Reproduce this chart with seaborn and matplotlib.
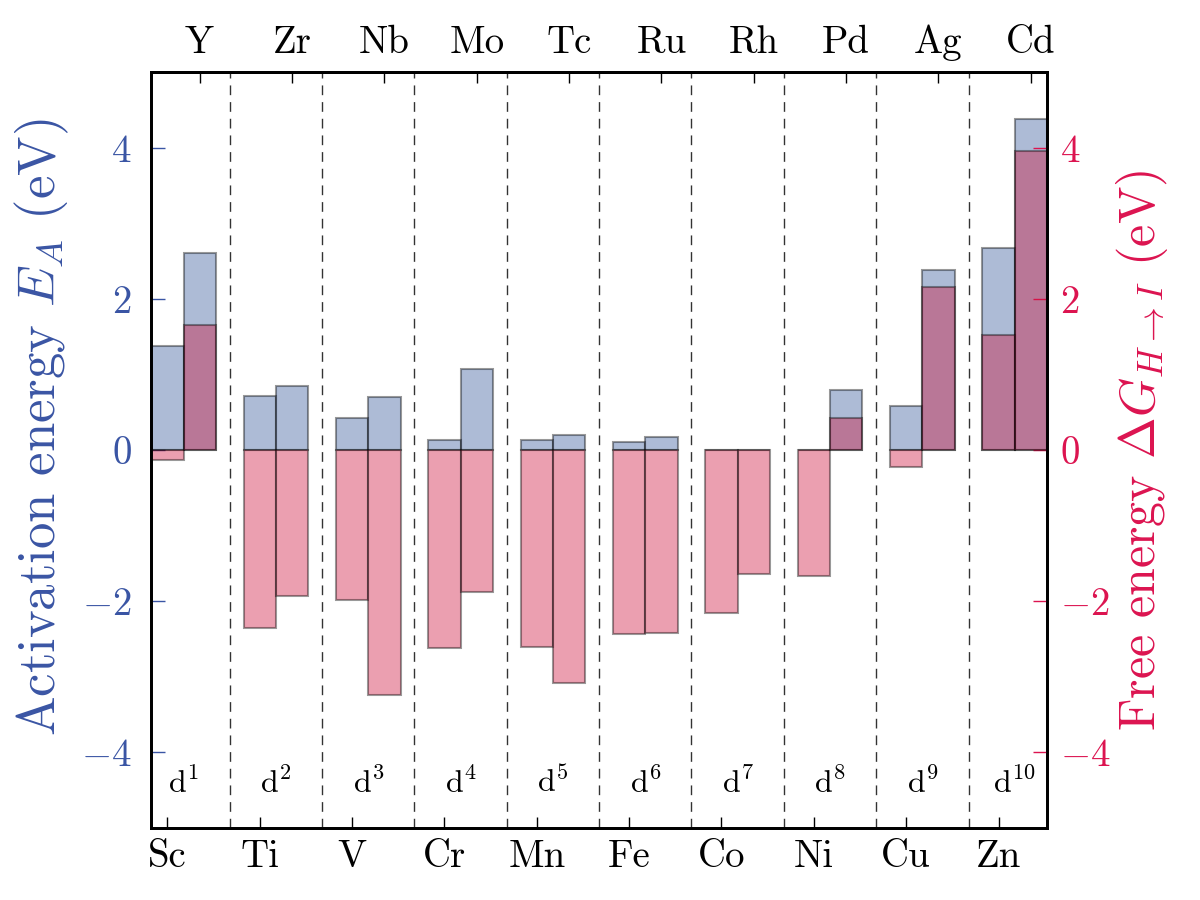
import pandas as pd
import seaborn as sns
import matplotlib.pyplot as plt

# Transition metals: 3d row (left bar) and 4d row (right bar) for each d-count
d_labels = ['d$^{1}$', 'd$^{2}$', 'd$^{3}$', 'd$^{4}$', 'd$^{5}$',
            'd$^{6}$', 'd$^{7}$', 'd$^{8}$', 'd$^{9}$', 'd$^{10}$']
elem_3d = ['Sc', 'Ti', 'V', 'Cr', 'Mn', 'Fe', 'Co', 'Ni', 'Cu', 'Zn']
elem_4d = ['Y', 'Zr', 'Nb', 'Mo', 'Tc', 'Ru', 'Rh', 'Pd', 'Ag', 'Cd']

# Activation energy E_A (eV)
ea_3d = [1.38, 0.71, 0.42, 0.13, 0.13, 0.10, 0.0, 0.0, 0.58, 2.67]
ea_4d = [2.60, 0.84, 0.70, 1.07, 0.20, 0.17, 0.0, 0.80, 2.38, 4.38]

# Free energy dG_{H->I} (eV)
dg_3d = [-0.13, -2.35, -1.98, -2.62, -2.60, -2.44, -2.15, -1.67, -0.22, 1.52]
dg_4d = [1.65, -1.93, -3.24, -1.88, -3.08, -2.42, -1.64, 0.42, 2.15, 3.95]

blue = '#3a55a4'
red = '#dc1450'
blue_bar = '#345599'
red_bar = '#cd113a'

df = pd.DataFrame({
    'group': d_labels * 2,
    'row': ['3d'] * 10 + ['4d'] * 10,
    'EA': ea_3d + ea_4d,
    'dG': dg_3d + dg_4d,
})

sns.set_style('ticks', {'text.color': 'k', 'xtick.color': 'k', 'ytick.color': 'k',
                        'axes.edgecolor': 'k'})
plt.rcParams['font.family'] = ['cmr10']
plt.rcParams['mathtext.fontset'] = 'cm'
plt.rcParams['axes.formatter.use_mathtext'] = True
plt.rcParams['axes.unicode_minus'] = True

fig, ax1 = plt.subplots(figsize=(12, 9), dpi=100)
fig.subplots_adjust(left=0.126, right=0.8725, top=0.92, bottom=0.08)

sns.barplot(data=df, x='group', y='EA', hue='row', palette=[blue_bar, blue_bar],
            width=0.7, alpha=0.4, saturation=1, edgecolor='k', linewidth=1.5,
            legend=False, ax=ax1, zorder=2)

ax2 = ax1.twinx()
sns.barplot(data=df, x='group', y='dG', hue='row', palette=[red_bar, red_bar],
            width=0.7, alpha=0.4, saturation=1, edgecolor='k', linewidth=1.5,
            legend=False, ax=ax2, zorder=2)

for ax in (ax1, ax2):
    ax.set_ylim(-5, 5)
    ax.set_xlim(-0.35, 9.35)
    ax.set_yticks([-4, -2, 0, 2, 4])
    ax.set_xlabel('')
    for s in ax.spines.values():
        s.set_linewidth(2)
        s.set_color('k')

# separators between d-count groups
for i in range(9):
    ax1.axvline(i + 0.5, color='#333333', ls=(0, (7, 5)), lw=1, zorder=1)

for i, lab in enumerate(d_labels):
    ax1.text(i, -4.4, lab, ha='center', va='center', fontsize=23, color='k')

ax1.set_ylabel('Activation energy $E_A$ (eV)', color=blue, fontsize=38)
ax2.set_ylabel(r'Free energy $\Delta G_{H\rightarrow I}$ (eV)', color=red, fontsize=36)
ax1.yaxis.set_label_coords(-0.09, 0.53)
ax2.yaxis.set_label_coords(1.075, 0.5)
ax1.tick_params(axis='y', colors=blue, labelsize=28, direction='in', length=10, width=1, pad=14)
ax2.tick_params(axis='y', colors=red, labelsize=28, direction='in', length=10, width=1, pad=9)

ax1.set_xticks([i - 0.175 for i in range(10)])
ax1.set_xticklabels(elem_3d)
ax1.tick_params(axis='x', colors='k', labelsize=28, direction='in', length=8, width=1, pad=8)

top = ax1.secondary_xaxis('top')
top.set_xticks([i + 0.175 for i in range(10)])
top.set_xticklabels(elem_4d)
top.tick_params(axis='x', colors='k', labelsize=28, direction='in', length=8, width=1, pad=8)
top.spines['top'].set_linewidth(2)

fig.savefig('out.png', dpi=100)
